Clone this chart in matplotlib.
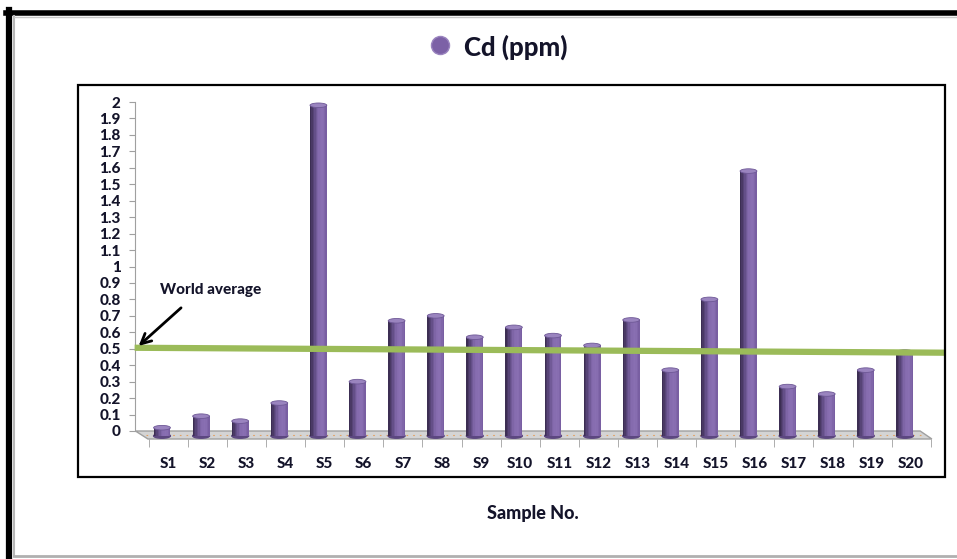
import numpy as np
import matplotlib
matplotlib.use("Agg")
import matplotlib.pyplot as plt
from matplotlib.patches import Ellipse, Polygon, Rectangle
from matplotlib.lines import Line2D

plt.rcParams['font.family'] = ['Lato', 'DejaVu Sans']
plt.rcParams['font.weight'] = 'bold'

samples = ['S%d' % i for i in range(1, 21)]
cd_ppm = [0.02, 0.09, 0.06, 0.17, 1.98, 0.30, 0.67, 0.70, 0.57, 0.63,
          0.58, 0.52, 0.675, 0.37, 0.80, 1.58, 0.27, 0.225, 0.37, 0.48]
world_avg = [0.506, 0.476]   # the reference line leans a little
y_ticks = [round(0.1 * i, 1) for i in range(21)]
y_labels = ['0', '0.1', '0.2', '0.3', '0.4', '0.5', '0.6', '0.7', '0.8', '0.9',
            '1', '1.1', '1.2', '1.3', '1.4', '1.5', '1.6', '1.7', '1.8', '1.9', '2']

W, H = 957, 559
fig = plt.figure(figsize=(W / 100, H / 100), dpi=100)
TXT = '#14142a'
WT = 900


def fx(px):
    return px / W


def fy(py):
    return 1 - py / H


# axes: index 0 at px 162, 39.1 px per sample; value 0 at px 431, 2 at px 102
x0, step = 162, 39.1
xmin, xmax = -0.7, 19.7
ybot = -(439 - 431) / 164.5
ax_left = x0 + xmin * step
ax_right = x0 + xmax * step
ax = fig.add_axes([fx(ax_left), fy(439), (ax_right - ax_left) / W, (439 - 102) / H])
ax.set_xlim(xmin, xmax)
ax.set_ylim(ybot, 2.0)
ax.patch.set_alpha(0)

x = np.arange(len(samples))
vals = np.array(cd_ppm)

# floor of the 3-D chart
floor = Polygon([(-0.68, 0.0), (19.39, 0.0), (19.69, ybot), (-0.36, ybot)],
                closed=True, facecolor='#d4d4d4', edgecolor='#a0a0a0', lw=1,
                clip_on=False, zorder=1)
ax.add_patch(floor)
ax.plot([-0.4, 19.45], [-0.024, -0.024], color='#e3a060', lw=0.8,
        dashes=(1.5, 4.5), clip_on=False, zorder=1.5)

# cylinders: shaded strips + elliptical caps
width = 0.43
base = -0.03
nstrip = 12
stops = np.array([[0x35, 0x29, 0x4a], [0x5e, 0x49, 0x80], [0x84, 0x6a, 0xad],
                  [0x8a, 0x70, 0xb3], [0x76, 0x5c, 0x9e]]) / 255
pos = np.linspace(0, 1, len(stops))
for k in range(nstrip):
    t = (k + 0.5) / nstrip
    col = [np.interp(t, pos, stops[:, c]) for c in range(3)]
    off = -width / 2 + (k + 0.5) * width / nstrip
    ax.bar(x + off, vals - base, width=width / nstrip * 1.05, bottom=base,
           color=col, linewidth=0, zorder=3)
for xi, v in zip(x, vals):
    ax.add_patch(Ellipse((xi, base), width, 0.028, color='#5c4780', zorder=2.9))
    ax.add_patch(Ellipse((xi, v), width, 0.028, facecolor='#9a84bf',
                         edgecolor='#6e5896', lw=0.6, zorder=4, clip_on=False))

# world average line
ax.plot([xmin, (946 - x0) / step], world_avg, color='#9bbb59', lw=4.5,
        solid_capstyle='butt', clip_on=False, zorder=5)
ax.annotate('', xy=(xmin + 0.05, world_avg[0]), xytext=(0.54, 0.76),
            arrowprops=dict(arrowstyle='->', color='black', lw=2,
                            mutation_scale=18), zorder=6)
ax.text(1.25, 0.857, 'World average', ha='center', va='center',
        fontsize=11, fontweight=WT, color=TXT)

# axes styling
for s in ['top', 'right', 'bottom']:
    ax.spines[s].set_visible(False)
ax.spines['left'].set_color('#a0a0a0')
ax.spines['left'].set_bounds(0, 2)
ax.set_yticks(y_ticks, y_labels)
ax.tick_params(axis='y', length=4, color='#a0a0a0', pad=6, labelsize=11,
               labelcolor=TXT)
ax.set_xticks(x + 0.16, samples)
ax.set_xticks(np.arange(-0.5, 20, 1) + 0.16, minor=True)
ax.tick_params(axis='x', which='major', length=0, pad=13, labelsize=11,
               labelcolor=TXT)
ax.tick_params(axis='x', which='minor', length=6, color='#a0a0a0')
for lab in ax.get_yticklabels() + ax.get_xticklabels():
    lab.set_fontweight(WT)

# title with legend marker
fig.add_artist(Line2D([fx(440)], [fy(45)], marker='o', markersize=13,
                      color='#7c61a6', markeredgecolor='#9a84bf',
                      transform=fig.transFigure))
fig.text(fx(464), fy(47), 'Cd (ppm)', ha='left', va='center', fontsize=18.5,
         fontweight=WT, color=TXT)
fig.text(fx(533), fy(513), 'Sample No.', ha='center', va='center',
         fontsize=13, fontweight=WT, color=TXT)

# chart box and outer frame
fig.add_artist(Rectangle((fx(78), fy(477)), (945 - 78) / W, (477 - 85) / H,
                         transform=fig.transFigure, fill=False,
                         edgecolor='black', lw=1.6))
fig.add_artist(Line2D([fx(9), fx(9)], [fy(10), 0], color='black', lw=4.5,
                      transform=fig.transFigure))
fig.add_artist(Line2D([fx(6), 1], [fy(12.5), fy(12.5)], color='black', lw=4,
                      transform=fig.transFigure))
fig.add_artist(Line2D([fx(14), fx(14)], [fy(16), fy(556)], color='#b8b8b8',
                      lw=1.5, transform=fig.transFigure))
fig.add_artist(Line2D([fx(14), 1], [fy(16.5), fy(16.5)], color='#c8c8c8',
                      lw=1, transform=fig.transFigure))
fig.add_artist(Line2D([fx(14), 1], [fy(556), fy(556)], color='#b0b0b0',
                      lw=2, transform=fig.transFigure))

fig.savefig('out.png', dpi=100)
